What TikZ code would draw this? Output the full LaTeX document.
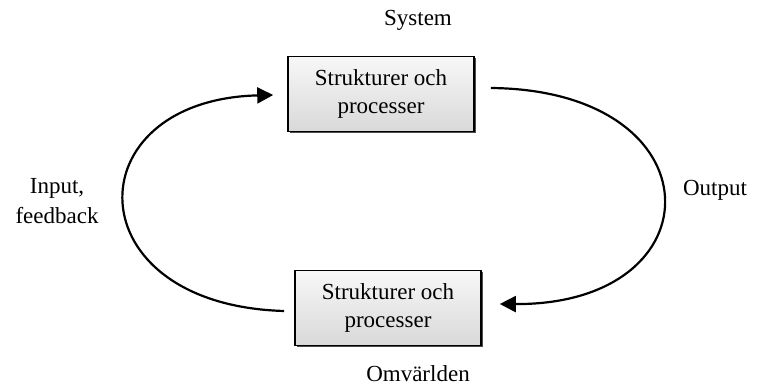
\documentclass[tikz,border=0pt]{standalone}
\usepackage{fontspec}
\setmainfont{Liberation Serif}
\usetikzlibrary{arrows.meta,shadows,calc}
\begin{document}
\begin{tikzpicture}[x=0.5pt,y=-0.5pt,
  boxst/.style={draw=black, line width=0.8pt, top color=gray!6, bottom color=gray!30,
    minimum width=93pt, minimum height=37.5pt, inner sep=0pt, align=center,
    font=\fontsize{11.5pt}{14pt}\selectfont,
    drop shadow={shadow xshift=0.8pt, shadow yshift=-0.8pt, fill=black!70, opacity=1}},
  lbl/.style={font=\fontsize{11.5pt}{15pt}\selectfont, align=center, inner sep=0pt},
  conn/.style={line width=1.1pt, -{Triangle[length=8pt,width=8pt]}}]
\useasboundingbox (0,0) rectangle (764,390);
\node[boxst] (top) at (381,94) {Strukturer och\\processer};
\node[boxst] (bot) at (388,308) {Strukturer och\\processer};
\node[lbl] (sys) at (418,20) {System};
\node[lbl] (omv) at (418,374) {Omvärlden};
\node[lbl] (inp) at (57,201) {Input,\\feedback};
\node[lbl] (out) at (715,190) {Output};
\coordinate (ls) at ($(bot.west)+(-10,3)$);
\coordinate (le) at ($(top.west)+(-14,1)$);
\coordinate (rs) at ($(top.east)+(16,-6)$);
\coordinate (re) at ($(bot.east)+(18,-4)$);
\draw[conn] (ls) .. controls (73,305) and (73,100) .. (le);
\draw[conn] (rs) .. controls (719,90) and (719,305) .. (re);
\end{tikzpicture}
\end{document}
